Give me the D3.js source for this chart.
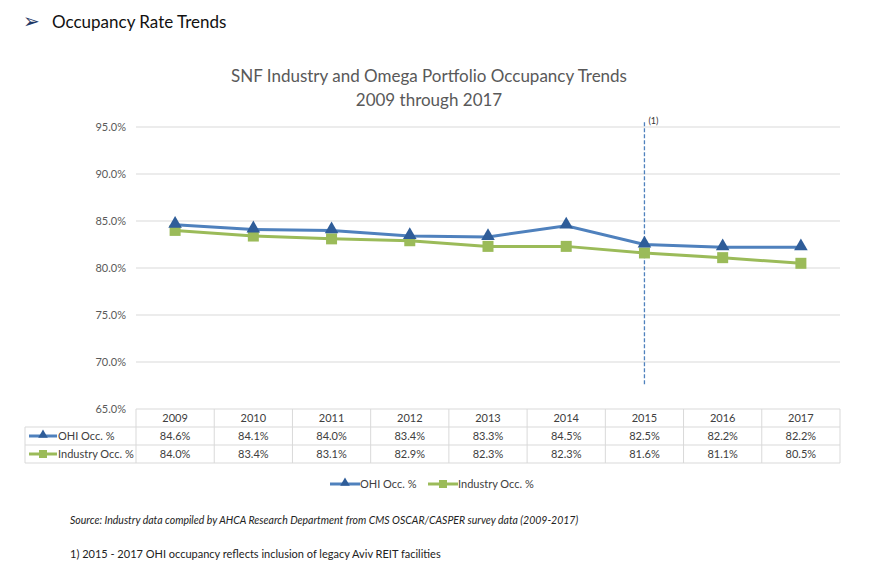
<!DOCTYPE html>
<html>
<head>
<meta charset="utf-8">
<script src="https://cdn.jsdelivr.net/npm/d3@7"></script>
<style>
  body { margin: 0; background: #fff; }
  svg text { font-family: Lato, "Noto Sans", sans-serif; }
</style>
</head>
<body>
<div id="chart"></div>
<script>
// chart data
var years = ['2009', '2010', '2011', '2012', '2013', '2014', '2015', '2016', '2017']
var ohiOcc = [84.6, 84.1, 84.0, 83.4, 83.3, 84.5, 82.5, 82.2, 82.2]
var industryOcc = [84.0, 83.4, 83.1, 82.9, 82.3, 82.3, 81.6, 81.1, 80.5]
var yTicks = [65, 70, 75, 80, 85, 90, 95]
var markerYear = '2015'

var blue = '#4f81bd', blueDark = '#2f5d99', green = '#9bbb59'

var svg = d3.select('#chart').append('svg')
  .attr('width', 874).attr('height', 576)

// page header
svg.append('text').attr('x', 23).attr('y', 28)
  .attr('font-size', 20).attr('fill', '#1f3864').text('\u27A2')
svg.append('text').attr('x', 52).attr('y', 28)
  .attr('font-size', 17).attr('fill', '#111').text('Occupancy Rate Trends')

// title
svg.append('text').attr('x', 429).attr('y', 82).attr('text-anchor', 'middle')
  .attr('font-size', 17).attr('fill', '#595959')
  .text('SNF Industry and Omega Portfolio Occupancy Trends')
svg.append('text').attr('x', 429).attr('y', 106).attr('text-anchor', 'middle')
  .attr('font-size', 17).attr('fill', '#595959')
  .text('2009 through 2017')

var plotLeft = 136, plotRight = 840, plotTop = 127, plotBottom = 409

var x = d3.scaleBand().domain(years).range([plotLeft, plotRight])
var y = d3.scaleLinear().domain([65, 95]).range([plotBottom, plotTop])

// gridlines
svg.append('g').selectAll('line').data(yTicks).enter().append('line')
  .attr('x1', plotLeft).attr('x2', plotRight)
  .attr('y1', d => y(d)).attr('y2', d => y(d))
  .attr('stroke', '#d9d9d9').attr('stroke-width', 1)

// y axis labels
var yAxis = svg.append('g').attr('transform', 'translate(' + (plotLeft - 6) + ',0)')
  .call(d3.axisLeft(y).tickValues(yTicks).tickSize(0).tickPadding(4)
    .tickFormat(d => d.toFixed(1) + '%'))
yAxis.select('.domain').remove()
yAxis.selectAll('text').attr('font-size', 11).attr('fill', '#595959')
  .style('font-family', 'Lato, "Noto Sans", sans-serif')

// dashed marker line
var mx = x(markerYear) + x.bandwidth() / 2
svg.append('line').attr('x1', mx).attr('x2', mx).attr('y1', y(95.5)).attr('y2', y(67.5))
  .attr('stroke', '#4f81bd').attr('stroke-width', 1.3).attr('stroke-dasharray', '4,2')
svg.append('text').attr('x', mx + 4).attr('y', y(95.5) + 2)
  .attr('font-size', 9).attr('fill', '#333').text('(1)')

var cx = d => x(d) + x.bandwidth() / 2
var line = d3.line().x((d, i) => cx(years[i])).y(d => y(d))

// industry series
svg.append('path').datum(industryOcc).attr('d', line)
  .attr('fill', 'none').attr('stroke', green).attr('stroke-width', 3)
svg.append('g').selectAll('rect').data(industryOcc).enter().append('rect')
  .attr('x', (d, i) => cx(years[i]) - 5.5).attr('y', d => y(d) - 5.5)
  .attr('width', 11).attr('height', 11).attr('fill', green)

// OHI series
svg.append('path').datum(ohiOcc).attr('d', line)
  .attr('fill', 'none').attr('stroke', blue).attr('stroke-width', 3)
var tri = d3.symbol().type(d3.symbolTriangle).size(80)
svg.append('g').selectAll('path').data(ohiOcc).enter().append('path')
  .attr('d', tri).attr('transform', (d, i) => 'translate(' + cx(years[i]) + ',' + (y(d) - 1) + ')')
  .attr('fill', blueDark)

// data table
var rowH = 18
var tableTop = plotBottom
var rows = [
  {label: 'OHI Occ. %', values: ohiOcc, color: blue, marker: 'tri'},
  {label: 'Industry Occ. %', values: industryOcc, color: green, marker: 'sq'}
]
var tbl = svg.append('g')
var gridColor = '#d9d9d9'
var bounds = years.map(d => x(d)).concat([plotRight])
tbl.selectAll('line.v').data(bounds).enter().append('line')
  .attr('x1', d => d).attr('x2', d => d)
  .attr('y1', tableTop).attr('y2', tableTop + rowH * 3)
  .attr('stroke', gridColor)
tbl.append('line').attr('x1', 25).attr('x2', 25)
  .attr('y1', tableTop + rowH).attr('y2', tableTop + rowH * 3).attr('stroke', gridColor)
;[1, 2, 3].forEach(function(r){
  tbl.append('line').attr('x1', 25).attr('x2', plotRight)
    .attr('y1', tableTop + rowH * r).attr('y2', tableTop + rowH * r).attr('stroke', gridColor)
})
tbl.selectAll('text.h').data(years).enter().append('text')
  .attr('x', d => cx(d)).attr('y', tableTop + 13).attr('text-anchor', 'middle')
  .attr('font-size', 11).attr('fill', '#404040').text(d => d)

function legendKey(g, x0, yy, len, color, marker){
  g.append('line').attr('x1', x0).attr('x2', x0 + len).attr('y1', yy).attr('y2', yy)
    .attr('stroke', color).attr('stroke-width', 3)
  if (marker === 'tri'){
    g.append('path').attr('d', d3.symbol().type(d3.symbolTriangle).size(40))
      .attr('transform', 'translate(' + (x0 + len / 2) + ',' + (yy - 1) + ')').attr('fill', blueDark)
  } else {
    g.append('rect').attr('x', x0 + len / 2 - 4).attr('y', yy - 4)
      .attr('width', 8).attr('height', 8).attr('fill', color)
  }
}

rows.forEach(function(row, r){
  var yy = tableTop + rowH * (r + 1)
  legendKey(tbl, 29, yy + 9, 28, row.color, row.marker)
  tbl.append('text').attr('x', 58).attr('y', yy + 13)
    .attr('font-size', 11).attr('fill', '#404040').text(row.label)
  tbl.selectAll(null).data(row.values).enter().append('text')
    .attr('x', (d, i) => cx(years[i])).attr('y', yy + 13).attr('text-anchor', 'middle')
    .attr('font-size', 11).attr('fill', '#404040').text(d => d.toFixed(1) + '%')
})

// legend
var lg = svg.append('g')
legendKey(lg, 330, 484, 30, blue, 'tri')
lg.append('text').attr('x', 360).attr('y', 488).attr('font-size', 11).attr('fill', '#404040').text('OHI Occ. %')
legendKey(lg, 428, 484, 30, green, 'sq')
lg.append('text').attr('x', 458).attr('y', 488).attr('font-size', 11).attr('fill', '#404040').text('Industry Occ. %')

// notes
svg.append('text').attr('x', 70).attr('y', 524).attr('font-size', 10.5).attr('font-style', 'italic')
  .attr('fill', '#222')
  .text('Source:  Industry data compiled by AHCA Research Department from CMS OSCAR/CASPER survey data (2009-2017)')
svg.append('text').attr('x', 70).attr('y', 558).attr('font-size', 11).attr('fill', '#222')
  .text('1)  2015 - 2017 OHI occupancy reflects inclusion of legacy Aviv REIT facilities')
</script>
</body>
</html>
